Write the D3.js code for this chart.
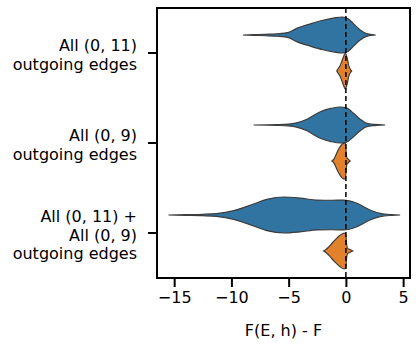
<!DOCTYPE html>
<html>
<head>
<meta charset="utf-8">
<script src="https://cdn.jsdelivr.net/npm/d3@7"></script>
<style>
  body { margin: 0; background: #fff; }
  svg { font-family: "DejaVu Sans", sans-serif; }
</style>
</head>
<body>
<div id="chart"></div>
<script>
// categories (top to bottom) and their label lines
const categories = ['a11', 'a9', 'both'];
const categoryLabels = [
  ['All (0, 11)', 'outgoing edges'],
  ['All (0, 9)', 'outgoing edges'],
  ['All (0, 11) +', 'All (0, 9)', 'outgoing edges']
];
const hues = ['first', 'second'];
const hueColors = ['#3274a1', '#e1812c'];
const xTicks = [-15, -10, -5, 0, 5];

// violin outlines: [value, relative density]
const blueA11 = [[-9.0,0],[-8,0.02],[-7,0.04],[-6,0.07],[-5,0.15],[-4.3,0.37],[-3.1,0.62],[-2,0.82],[-1,0.95],[-0.3,1.0],[0.2,0.9],[0.67,0.62],[1.25,0.28],[1.8,0.08],[2.6,0]];
const orangeA11 = [[-0.8,0],[-0.65,0.15],[-0.5,0.3],[-0.35,0.55],[-0.2,0.8],[-0.05,1.0],[0.1,0.75],[0.25,0.3],[0.4,0.08],[0.5,0]];
const blueA9 = [[-8.06,0],[-6,0.02],[-5,0.05],[-4.3,0.12],[-3.4,0.32],[-2.24,0.74],[-1.3,0.92],[-0.5,1.0],[0,0.97],[0.67,0.65],[1.25,0.32],[1.83,0.09],[2.5,0.03],[3.43,0]];
const orangeA9 = [[-1.22,0],[-1.05,0.1],[-0.93,0.25],[-0.8,0.45],[-0.64,0.65],[-0.5,0.8],[-0.35,0.92],[-0.2,0.99],[-0.05,1.0],[0.02,0.55],[0.08,0.2],[0.2,0.1],[0.37,0]];
const blueBoth = [[-15.5,0],[-14,0.02],[-12.5,0.04],[-11.3,0.08],[-9.8,0.24],[-8.06,0.61],[-6.9,0.87],[-5.4,1.0],[-4.0,0.94],[-2.5,0.83],[-1.2,0.82],[-0.2,0.83],[0.96,0.65],[2.1,0.28],[3.0,0.09],[4.0,0.02],[4.74,0]];
const orangeBoth = [[-1.95,0],[-1.75,0.08],[-1.5,0.22],[-1.22,0.43],[-0.9,0.65],[-0.5,0.88],[-0.15,1.0],[0.0,0.9],[0.06,0.4],[0.15,0.15],[0.35,0.08],[0.6,0]];

const violins = [
  {cat:'a11', hue:'first', pts:blueA11},
  {cat:'a11', hue:'second', pts:orangeA11},
  {cat:'a9', hue:'first', pts:blueA9},
  {cat:'a9', hue:'second', pts:orangeA9},
  {cat:'both', hue:'first', pts:blueBoth},
  {cat:'both', hue:'second', pts:orangeBoth}
];

const width = 420, height = 350;
const margin = {top: 8, right: 10, bottom: 72, left: 157};

const svg = d3.select('#chart').append('svg')
  .attr('width', width)
  .attr('height', height);

const x = d3.scaleLinear()
  .domain([-16.5, 5.6])
  .range([margin.left, width - margin.right]);

const y = d3.scaleBand()
  .domain(categories)
  .range([margin.top, height - margin.bottom])
  .padding(0);

const bw = y.bandwidth();
const hueBand = d3.scaleBand()
  .domain(hues)
  .range([-bw * 0.4, bw * 0.4]);
const halfW = hueBand.bandwidth() / 2;
const color = d3.scaleOrdinal().domain(hues).range(hueColors);

// violins
svg.append('g')
  .selectAll('path')
  .data(violins)
  .join('path')
    .attr('d', d => {
      const cy = y(d.cat) + bw / 2 + hueBand(d.hue) + halfW;
      return d3.area()
        .x(p => x(p[0]))
        .y0(p => cy - p[1] * halfW)
        .y1(p => cy + p[1] * halfW)
        .curve(d3.curveMonotoneX)(d.pts);
    })
    .attr('fill', d => color(d.hue))
    .attr('stroke', '#3d3d3d')
    .attr('stroke-width', 1.2);

// reference line at zero
svg.append('line')
  .attr('x1', x(0)).attr('x2', x(0))
  .attr('y1', margin.top).attr('y2', height - margin.bottom)
  .attr('stroke', '#000')
  .attr('stroke-width', 1.5)
  .attr('stroke-dasharray', '5,3');

// x axis
const gx = svg.append('g')
  .attr('transform', `translate(0,${height - margin.bottom})`)
  .call(d3.axisBottom(x).tickValues(xTicks).tickSize(9).tickPadding(5)
    .tickFormat(d => d < 0 ? '\u2212' + Math.abs(d) : d))
  .attr('font-size', 16)
  .attr('font-family', 'DejaVu Sans, sans-serif');
gx.select('.domain').remove();
gx.selectAll('.tick line').attr('stroke-width', 2);
gx.selectAll('.tick text').attr('fill', '#000');

// y axis with multi-line labels
const gy = svg.append('g')
  .attr('transform', `translate(${margin.left},0)`)
  .call(d3.axisLeft(y).tickSize(9).tickFormat(''));
gy.select('.domain').remove();
gy.selectAll('.tick line').attr('stroke-width', 2);
gy.selectAll('.tick')
  .append('text')
  .attr('text-anchor', 'end')
  .attr('font-size', 16)
  .attr('font-family', 'DejaVu Sans, sans-serif')
  .attr('fill', '#000')
  .selectAll('tspan')
  .data((d, i) => categoryLabels[i].map((t, j, arr) => ({t, j, n: arr.length})))
  .join('tspan')
    .attr('x', -20)
    .attr('y', d => (d.j - (d.n - 1) / 2) * 18.3 + 7.5)
    .text(d => d.t);

// frame
svg.append('rect')
  .attr('x', margin.left).attr('y', margin.top)
  .attr('width', width - margin.right - margin.left)
  .attr('height', height - margin.bottom - margin.top)
  .attr('fill', 'none')
  .attr('stroke', '#000')
  .attr('stroke-width', 2);

// x axis title
svg.append('text')
  .attr('x', (margin.left + width - margin.right) / 2)
  .attr('y', 336)
  .attr('text-anchor', 'middle')
  .attr('font-size', 16)
  .text('F(E, h) - F');
</script>
</body>
</html>
